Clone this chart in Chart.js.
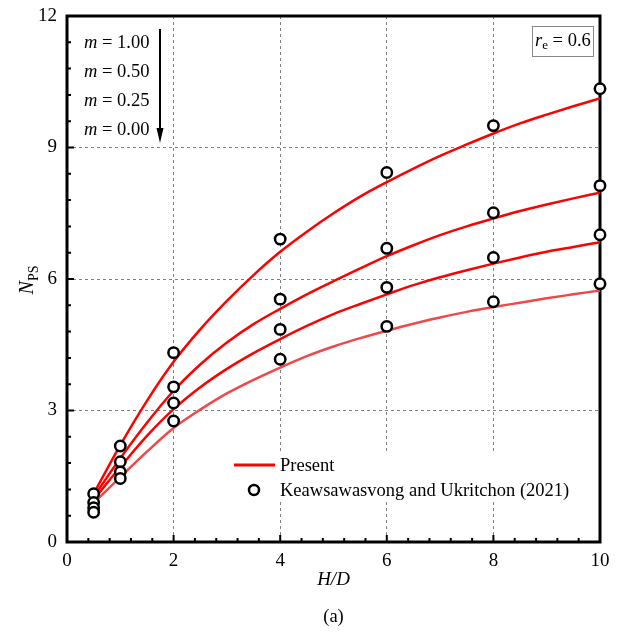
<!DOCTYPE html>
<html>
<head>
<meta charset="utf-8">
<script src="https://cdn.jsdelivr.net/npm/chart.js@4/dist/chart.umd.min.js"></script>
<style>
  body { margin: 0; background: #fff; }
  canvas { display: block; }
</style>
</head>
<body>
<canvas id="npsChart" width="621" height="634"></canvas>
<script>
// H/D values of the fitted curves (Present)
var hdFit = [0.5, 1, 1.5, 2, 2.5, 3, 3.5, 4, 4.5, 5, 5.5, 6, 6.5, 7, 7.5, 8, 8.5, 9, 9.5, 10];
var presentM100 = [1.10, 2.21, 3.22, 4.11, 4.85, 5.50, 6.09, 6.62, 7.08, 7.50, 7.88, 8.21, 8.52, 8.81, 9.07, 9.32, 9.55, 9.75, 9.94, 10.12];
var presentM050 = [1.03, 1.91, 2.72, 3.45, 4.05, 4.55, 4.97, 5.32, 5.65, 5.95, 6.24, 6.52, 6.77, 7.00, 7.20, 7.38, 7.55, 7.70, 7.84, 7.97];
var presentM025 = [0.97, 1.71, 2.42, 3.03, 3.53, 3.95, 4.31, 4.63, 4.93, 5.20, 5.43, 5.65, 5.86, 6.04, 6.20, 6.35, 6.49, 6.62, 6.73, 6.84];
var presentM000 = [0.89, 1.48, 2.06, 2.60, 3.02, 3.39, 3.70, 3.98, 4.24, 4.46, 4.65, 4.82, 4.98, 5.12, 5.25, 5.36, 5.46, 5.56, 5.65, 5.74];

// Keawsawasvong and Ukritchon (2021)
var hdRef = [0.5, 1, 2, 4, 6, 8, 10];
var refM100 = [1.10, 2.19, 4.32, 6.91, 8.43, 9.50, 10.34];
var refM050 = [0.90, 1.83, 3.54, 5.54, 6.70, 7.51, 8.13];
var refM025 = [0.78, 1.60, 3.17, 4.85, 5.81, 6.49, 7.01];
var refM000 = [0.68, 1.45, 2.76, 4.17, 4.92, 5.48, 5.89];

var mLabels = ['1.00', '0.50', '0.25', '0.00'];

var serif = "'Liberation Serif', 'Times New Roman', serif";

function pts(xs, ys) {
    return xs.map(function (x, i) { return { x: x, y: ys[i] }; });
}

function lineSet(ys, color) {
    return {
        label: 'Present',
        data: pts(hdFit, ys),
        showLine: true,
        borderColor: color,
        borderWidth: 2.5,
        pointRadius: 0,
        fill: false,
        cubicInterpolationMode: 'monotone',
        clip: false
    };
}

var refData = []
    .concat(pts(hdRef, refM100))
    .concat(pts(hdRef, refM050))
    .concat(pts(hdRef, refM025))
    .concat(pts(hdRef, refM000));

// frame, inward ticks, annotations and legend
var decor = {
    id: 'decor',
    beforeDatasetsDraw: function (chart) {
        var ctx = chart.ctx, a = chart.chartArea;
        var xs = chart.scales.x, ys = chart.scales.y;
        ctx.save();
        ctx.strokeStyle = '#000';
        ctx.lineWidth = 2;
        ctx.beginPath();
        for (var i = 0; i <= 25; i++) {
            var px = xs.getPixelForValue(i * 0.4);
            var len = (i % 5 === 0) ? 7 : 4;
            ctx.moveTo(px, a.bottom);
            ctx.lineTo(px, a.bottom - len);
        }
        for (var j = 0; j <= 20; j++) {
            var py = ys.getPixelForValue(j * 0.6);
            var ln = (j % 5 === 0) ? 7 : 4;
            ctx.moveTo(a.left, py);
            ctx.lineTo(a.left + ln, py);
        }
        ctx.stroke();

        // legend box (hides grid)
        ctx.fillStyle = '#fff';
        ctx.fillRect(226, 452, 350, 50);

        ctx.lineWidth = 3;
        ctx.strokeRect(a.left, a.top, a.right - a.left, a.bottom - a.top);
        ctx.restore();
    },
    afterDraw: function (chart) {
        var ctx = chart.ctx, a = chart.chartArea;
        ctx.save();
        ctx.fillStyle = '#000';
        ctx.textBaseline = 'middle';

        // m labels
        var my = [43, 72, 101, 130];
        mLabels.forEach(function (t, i) {
            ctx.font = 'italic 18.5px ' + serif;
            ctx.textAlign = 'left';
            ctx.fillText('m', 84, my[i]);
            var w = ctx.measureText('m').width;
            ctx.font = '18.5px ' + serif;
            ctx.fillText(' = ' + t, 84 + w, my[i]);
        });

        // arrow
        ctx.strokeStyle = '#000';
        ctx.lineWidth = 2;
        ctx.beginPath();
        ctx.moveTo(160, 29);
        ctx.lineTo(160, 132);
        ctx.stroke();
        ctx.beginPath();
        ctx.moveTo(156.5, 128);
        ctx.lineTo(163.5, 128);
        ctx.lineTo(160, 143);
        ctx.closePath();
        ctx.fill();

        // r_e box
        ctx.strokeStyle = '#888';
        ctx.lineWidth = 1;
        ctx.strokeRect(532.5, 26.5, 61, 30);
        ctx.font = 'italic 18.5px ' + serif;
        ctx.textAlign = 'left';
        ctx.fillText('r', 535, 41);
        var rw = ctx.measureText('r').width;
        ctx.font = '13px ' + serif;
        ctx.fillText('e', 535 + rw, 46);
        var ew = ctx.measureText('e').width;
        ctx.font = '18.5px ' + serif;
        ctx.fillText(' = 0.6', 535 + rw + ew, 41);

        // legend
        ctx.strokeStyle = '#ff0000';
        ctx.lineWidth = 3;
        ctx.beginPath();
        ctx.moveTo(234, 465);
        ctx.lineTo(275, 465);
        ctx.stroke();
        ctx.strokeStyle = '#000';
        ctx.lineWidth = 2.5;
        ctx.beginPath();
        ctx.arc(254, 490, 5, 0, Math.PI * 2);
        ctx.stroke();
        ctx.font = '18.5px ' + serif;
        ctx.fillText('Present', 280, 466);
        ctx.fillText('Keawsawasvong and Ukritchon (2021)', 280, 491);

        // axis titles
        ctx.textAlign = 'center';
        ctx.font = 'italic 19px ' + serif;
        ctx.fillText('H/D', (a.left + a.right) / 2, 580);
        ctx.font = '18.5px ' + serif;
        ctx.fillText('(a)', (a.left + a.right) / 2, 617);

        ctx.translate(28, 280);
        ctx.rotate(-Math.PI / 2);
        ctx.textAlign = 'left';
        ctx.font = 'italic 20px ' + serif;
        var nw = ctx.measureText('N').width;
        ctx.font = '14px ' + serif;
        var sw = ctx.measureText('PS').width;
        var x0 = -(nw + sw) / 2;
        ctx.font = 'italic 20px ' + serif;
        ctx.fillText('N', x0, 0);
        ctx.font = '14px ' + serif;
        ctx.fillText('PS', x0 + nw, 6);
        ctx.restore();
    }
};

new Chart(document.getElementById('npsChart'), {
    type: 'scatter',
    data: {
        datasets: [
            {
                label: 'Keawsawasvong and Ukritchon (2021)',
                data: refData,
                pointStyle: 'circle',
                pointRadius: 5.2,
                pointBorderWidth: 2.5,
                pointBorderColor: '#000',
                pointBackgroundColor: '#fff',
                showLine: false,
                clip: false
            },
            lineSet(presentM100, '#ff0000'),
            lineSet(presentM050, '#ff0000'),
            lineSet(presentM025, '#ff0000'),
            lineSet(presentM000, '#f04848')
        ]
    },
    options: {
        responsive: false,
        animation: false,
        events: [],
        layout: { padding: { top: 16, right: 21, left: 0, bottom: 0 } },
        plugins: {
            legend: { display: false },
            tooltip: { enabled: false }
        },
        scales: {
            x: {
                type: 'linear',
                min: 0,
                max: 10,
                afterFit: function (s) {
                    s.height = 92;
                    s.paddingLeft = 0;
                    s.paddingRight = 0;
                },
                ticks: {
                    stepSize: 2,
                    padding: 8,
                    color: '#000',
                    font: { family: serif, size: 19 }
                },
                grid: {
                    drawTicks: false,
                    color: '#808080',
                    lineWidth: 1
                },
                border: { display: false, dash: [3, 3] }
            },
            y: {
                min: 0,
                max: 12,
                afterFit: function (s) {
                    s.width = 67;
                    s.paddingTop = 0;
                    s.paddingBottom = 0;
                },
                ticks: {
                    stepSize: 3,
                    padding: 10,
                    color: '#000',
                    font: { family: serif, size: 19 }
                },
                grid: {
                    drawTicks: false,
                    color: '#808080',
                    lineWidth: 1
                },
                border: { display: false, dash: [3, 3] }
            }
        }
    },
    plugins: [decor]
});
</script>
</body>
</html>
